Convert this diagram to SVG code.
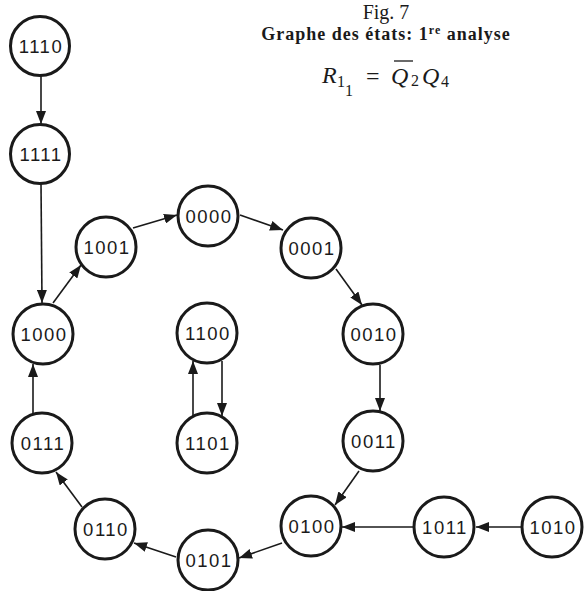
<svg xmlns="http://www.w3.org/2000/svg" width="584" height="591" viewBox="0 0 584 591">
<style>
.n circle{fill:#fff;stroke:#1a1a1a;stroke-width:3}
.n text{font-family:"Liberation Sans",Arial,sans-serif;font-size:18.5px;letter-spacing:1.5px;fill:#1a1a1a;text-anchor:middle}
.e line{stroke:#1a1a1a;stroke-width:1.6;fill:none;marker-end:url(#ah)}
.ser{font-family:"Liberation Serif","Times New Roman",serif;fill:#1a1a1a}
</style>
<defs>
<marker id="ah" markerUnits="userSpaceOnUse" markerWidth="14" markerHeight="10" refX="13" refY="5" orient="auto">
<path d="M0,0 L13,5 L0,10 z" fill="#1a1a1a"/>
</marker>
</defs>
<rect width="584" height="591" fill="#fff"/>
<g id="title">
<text class="ser" x="386" y="19" font-size="20" text-anchor="middle">Fig. 7</text>
<text class="ser" x="386" y="40" font-size="18" font-weight="bold" text-anchor="middle" letter-spacing="1">Graphe des états: 1<tspan font-size="12" dy="-6">re</tspan><tspan dy="6"> analyse</tspan></text>
<g id="formula" class="ser">
<text x="322" y="83" font-size="24" font-style="italic">R</text>
<text x="337" y="87" font-size="16">1</text>
<text x="345" y="96" font-size="16">1</text>
<text x="366" y="84" font-size="24">=</text>
<text x="391" y="84" font-size="24" font-style="italic">Q</text>
<line x1="394" y1="61" x2="413" y2="61" stroke="#1a1a1a" stroke-width="1.3"/>
<text x="411" y="86" font-size="16">2</text>
<text x="422" y="84" font-size="24" font-style="italic">Q</text>
<text x="441" y="87" font-size="16">4</text>
</g>
</g>
<g id="connectors" class="e">
<line x1="41" y1="75" x2="41" y2="124"/>
<line x1="41" y1="183" x2="42" y2="303"/>
<line x1="53" y1="303" x2="81" y2="265"/>
<line x1="133" y1="228" x2="177" y2="215"/>
<line x1="240" y1="215" x2="283" y2="230"/>
<line x1="336" y1="269" x2="362" y2="305"/>
<line x1="380" y1="365" x2="380" y2="411"/>
<line x1="359" y1="471" x2="335" y2="505"/>
<line x1="413" y1="527" x2="342" y2="527"/>
<line x1="282" y1="543" x2="239" y2="558"/>
<line x1="176" y1="557" x2="134" y2="543"/>
<line x1="82" y1="507" x2="56" y2="472"/>
<line x1="33" y1="413" x2="33" y2="364"/>
<line x1="222" y1="361" x2="222" y2="416"/>
<line x1="193" y1="416" x2="193" y2="361"/>
<line x1="521" y1="527" x2="476" y2="527"/>
</g>
<g id="n1110" class="n"><circle cx="40" cy="46" r="29.5"/><text x="41" y="53">1110</text></g>
<g id="n1111" class="n"><circle cx="40" cy="154" r="29.5"/><text x="41" y="161">1111</text></g>
<g id="n1000" class="n"><circle cx="43" cy="334" r="30"/><text x="44" y="341">1000</text></g>
<g id="n1001" class="n"><circle cx="106" cy="247" r="30"/><text x="107" y="254">1001</text></g>
<g id="n0000" class="n"><circle cx="208" cy="216" r="30"/><text x="209" y="223">0000</text></g>
<g id="n0001" class="n"><circle cx="311" cy="248" r="30"/><text x="312" y="255">0001</text></g>
<g id="n0010" class="n"><circle cx="373" cy="334" r="30"/><text x="374" y="341">0010</text></g>
<g id="n0011" class="n"><circle cx="373" cy="441" r="30"/><text x="374" y="448">0011</text></g>
<g id="n0100" class="n"><circle cx="311" cy="526" r="30"/><text x="312" y="533">0100</text></g>
<g id="n0101" class="n"><circle cx="208" cy="560" r="30"/><text x="209" y="567">0101</text></g>
<g id="n0110" class="n"><circle cx="105" cy="529" r="30"/><text x="106" y="536">0110</text></g>
<g id="n0111" class="n"><circle cx="42" cy="443" r="30"/><text x="43" y="450">0111</text></g>
<g id="n1100" class="n"><circle cx="207" cy="333" r="30"/><text x="208" y="340">1100</text></g>
<g id="n1101" class="n"><circle cx="207" cy="443" r="30"/><text x="208" y="450">1101</text></g>
<g id="n1011" class="n"><circle cx="444" cy="527" r="30"/><text x="445" y="534">1011</text></g>
<g id="n1010" class="n"><circle cx="552" cy="527" r="30"/><text x="553" y="534">1010</text></g>
</svg>
